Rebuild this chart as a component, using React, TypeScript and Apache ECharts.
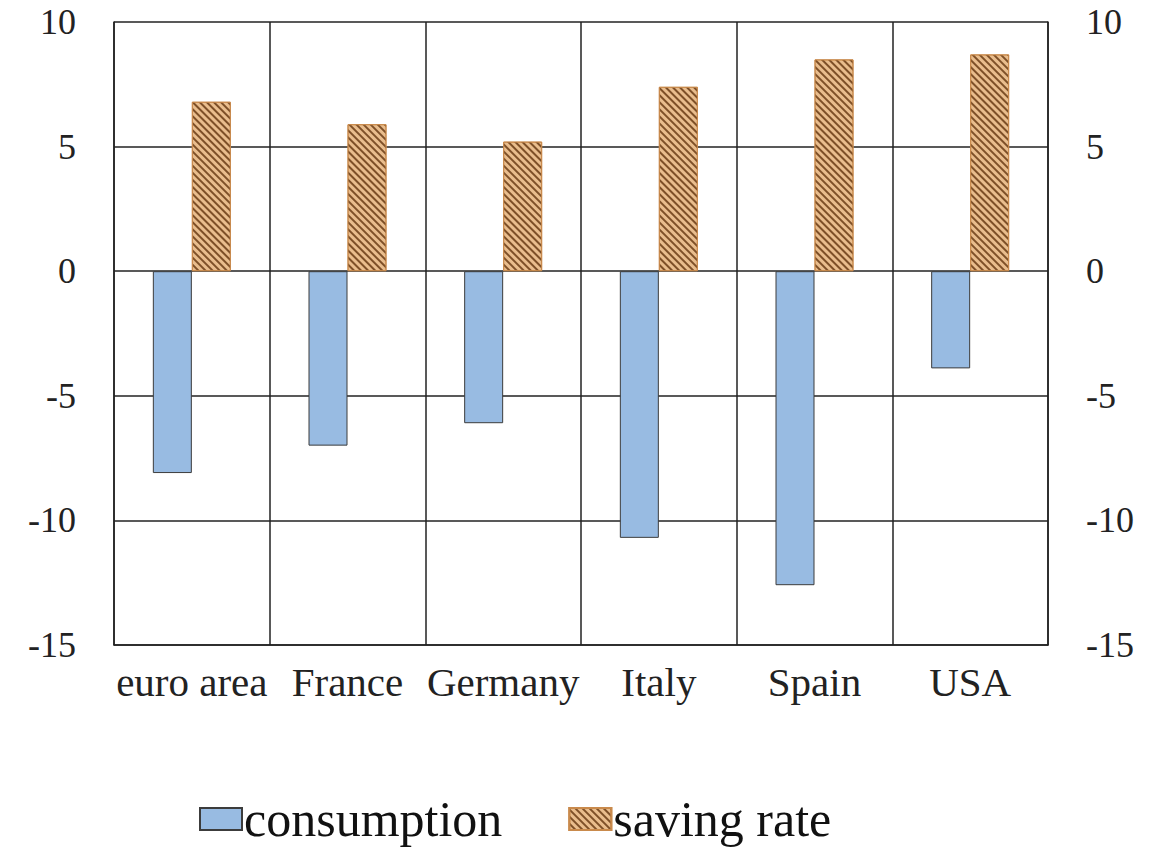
import React, { useEffect, useRef } from "react";
import * as echarts from "echarts";

const categories = ["euro area", "France", "Germany", "Italy", "Spain", "USA"];
const consumption = [-8.1, -7.0, -6.1, -10.7, -12.6, -3.9];
const savingRate = [6.8, 5.9, 5.2, 7.4, 8.5, 8.7];
const yTicks = { min: -15, max: 10, interval: 5 };

const FONT = "'Liberation Serif', 'Times New Roman', serif";

export default function App() {
  const ref = useRef<HTMLDivElement>(null);

  useEffect(() => {
    if (!ref.current) return;
    const chart = echarts.init(ref.current, undefined, { renderer: "svg" });

    const yAxisBase = {
      type: "value" as const,
      min: yTicks.min,
      max: yTicks.max,
      interval: yTicks.interval,
      axisLine: { show: true, lineStyle: { color: "#222", width: 1.5 } },
      axisTick: { show: false },
      splitLine: { show: true, lineStyle: { color: "#222", width: 1.5 } },
      axisLabel: { fontFamily: FONT, fontSize: 36, color: "#222", margin: 38 },
    };

    chart.setOption({
      animation: false,
      backgroundColor: "#ffffff",
      grid: { left: 114, right: 102, top: 22, bottom: 202, containLabel: false },
      legend: {
        left: 194,
        top: 789,
        icon: "rect",
        itemWidth: 42,
        itemHeight: 22,
        itemGap: 66,
        textStyle: {
          fontFamily: FONT,
          fontSize: 50,
          color: "#111",
          lineHeight: 50,
          padding: [0, 0, 0, -3],
        },
        data: ["consumption", "saving rate"],
      },
      xAxis: {
        type: "category",
        data: categories,
        axisLine: { show: true, onZero: false, lineStyle: { color: "#222", width: 1.5 } },
        axisTick: { show: false },
        splitLine: { show: true, interval: 0, lineStyle: { color: "#222", width: 1.5 } },
        axisLabel: { fontFamily: FONT, fontSize: 41, color: "#222", margin: 16, interval: 0 },
      },
      yAxis: [
        { ...yAxisBase, position: "left" },
        { ...yAxisBase, position: "right", splitLine: { show: false } },
      ],
      series: [
        {
          name: "consumption",
          type: "bar",
          data: consumption,
          barWidth: 39,
          barGap: "0%",
          itemStyle: { color: "#98bbe2", borderColor: "#3c3c3c", borderWidth: 1 },
        },
        {
          name: "saving rate",
          type: "bar",
          data: savingRate,
          barWidth: 39,
          barGap: "0%",
          itemStyle: {
            color: "#e9bd8d",
            borderColor: "#c98a4c",
            borderWidth: 1,
            decal: {
              symbol: "rect",
              symbolSize: 1,
              dashArrayX: [1, 0],
              dashArrayY: [2, 3],
              rotation: Math.PI / 4,
              color: "#7e5028",
            },
          },
        },
      ],
    });

    return () => chart.dispose();
  }, []);

  return <div ref={ref} style={{ width: 1150, height: 847, marginLeft: -8, marginTop: -8 }} />;
}
